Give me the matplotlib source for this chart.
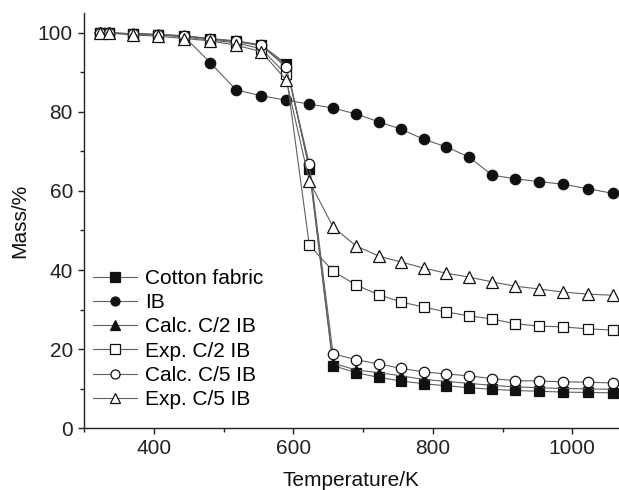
import matplotlib.pyplot as plt
from matplotlib.ticker import MultipleLocator

plt.rcParams['font.family'] = ['Liberation Sans', 'DejaVu Sans']

# data (temperature in K, mass in %)
temperature = [323, 336, 370, 406, 443, 481, 518, 554, 590, 623, 657, 690,
               723, 755, 787, 819, 852, 885, 918, 952, 987, 1022, 1058]

cotton = [100, 100, 99.8, 99.6, 99.3, 98.6, 98.0, 97.0, 92.2, 65.6, 15.8, 14.0,
          12.8, 11.9, 11.2, 10.7, 10.2, 9.8, 9.5, 9.3, 9.1, 9.0, 8.9]
ib = [100, 100, 99.8, 99.6, 99.2, 92.5, 85.6, 84.1, 83.0, 82.0, 81.0, 79.5,
      77.5, 75.6, 73.1, 71.2, 68.6, 64.0, 63.1, 62.4, 61.7, 60.6, 59.4]
calc_c2 = [100, 100, 99.8, 99.6, 99.2, 98.5, 97.8, 96.8, 91.8, 65.8, 16.4, 14.7,
           14.0, 13.2, 12.3, 11.8, 11.3, 10.8, 10.4, 10.2, 10.0, 9.9, 9.8]
exp_c2 = [100, 100, 99.7, 99.5, 99.0, 98.2, 97.5, 96.0, 89.5, 46.3, 39.7, 36.2,
          33.7, 31.9, 30.6, 29.4, 28.4, 27.6, 26.4, 25.8, 25.6, 25.1, 24.8]
calc_c5 = [100, 100, 99.8, 99.6, 99.3, 98.5, 97.9, 96.9, 91.3, 66.9, 18.8, 17.3,
           16.2, 15.1, 14.2, 13.7, 13.2, 12.5, 12.0, 11.9, 11.7, 11.6, 11.4]
exp_c5 = [100, 100, 99.5, 99.2, 98.6, 98.0, 96.9, 95.3, 88.1, 62.5, 50.9, 46.1,
          43.5, 42.0, 40.5, 39.2, 38.2, 37.0, 35.9, 35.2, 34.4, 33.9, 33.6]

labels = ['Cotton fabric', 'IB', 'Calc. C/2 IB', 'Exp. C/2 IB', 'Calc. C/5 IB', 'Exp. C/5 IB']
markers = ['s', 'o', '^', 's', 'o', '^']
faces = ['#111111', '#111111', '#111111', 'white', 'white', 'white']
sizes = [6.5, 7.5, 7.5, 6.5, 7.5, 8]

fig = plt.figure(figsize=(6.19, 4.9), dpi=100)
ax = fig.add_axes([0.1357, 0.1265, 0.8643, 0.8465])

series = [cotton, ib, calc_c2, exp_c2, calc_c5, exp_c5]
for i in range(len(series)):
    ax.plot(temperature, series[i], color='#606060', lw=0.8,
            marker=markers[i], ms=sizes[i], mfc=faces[i], mec='#111111',
            mew=0.9, label=labels[i], zorder=3 + i * 0.1)

ax.set_xlim(300, 1067)
ax.set_ylim(0, 105)
ax.xaxis.set_major_locator(MultipleLocator(200))
ax.xaxis.set_minor_locator(MultipleLocator(100))
ax.yaxis.set_major_locator(MultipleLocator(20))
ax.yaxis.set_minor_locator(MultipleLocator(10))

for s in ['top', 'right']:
    ax.spines[s].set_visible(False)
for s in ['left', 'bottom']:
    ax.spines[s].set_linewidth(1.0)
    ax.spines[s].set_color('#222222')

ax.tick_params(which='major', direction='out', length=4, width=1.0,
               labelsize=15, colors='#222222', pad=4)
ax.tick_params(which='minor', direction='out', length=3, width=1.0, colors='#222222')

ax.set_xlabel('Temperature/K', fontsize=15, color='#111111', labelpad=9)
ax.set_ylabel('Mass/%', fontsize=15, color='#111111', labelpad=6)

leg = ax.legend(loc='upper left', bbox_to_anchor=(0.150, 0.451),
                bbox_transform=fig.transFigure, frameon=False, fontsize=15,
                numpoints=1, handlelength=2.1, handletextpad=0.4,
                labelspacing=0.25, borderaxespad=0, borderpad=0)
for h in leg.legend_handles:
    h.set_markersize(6.5)

plt.savefig('out.png', dpi=100)
